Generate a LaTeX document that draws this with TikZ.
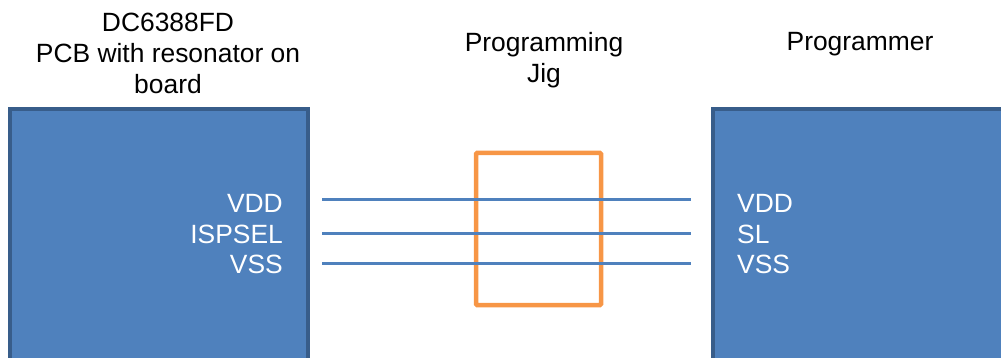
\documentclass[tikz,border=0pt]{standalone}
\usepackage{fontspec}
\setmainfont{Liberation Sans}
\definecolor{boxblue}{HTML}{4F81BD}
\definecolor{edgeblue}{HTML}{385D8A}
\definecolor{jigorange}{HTML}{F79646}
\begin{document}
\begin{tikzpicture}[x=1pt,y=-1pt,
        board/.style={fill=boxblue,draw=edgeblue,line width=4.5pt},
        pin/.style={text=white,font=\fontsize{26.4}{30}\selectfont,inner sep=0pt},
        title/.style={align=center,font=\fontsize{26.4}{30.8}\selectfont,inner sep=0pt},
        wire/.style={draw=boxblue,line width=3pt}]
\useasboundingbox (0,0) rectangle (1001,358);
\clip (0,0) rectangle (1001,358);

% boards
\draw[board] (10,109) rectangle (308,380);
\draw[board] (713,109) rectangle (1020,380);
\draw[jigorange,line width=4.5pt,rounded corners=1pt] (476,153) rectangle (601,305);

\node[title,anchor=north] (pcb) at (168,13) {DC6388FD\\PCB with resonator on\\board};
\node[title,anchor=north] (jig) at (544,32) {Programming\\Jig};
\node[title,anchor=base] (prog) at (860,51) {Programmer};

% pins
\node[pin,anchor=base east] (lvdd) at (283,213) {VDD};
\node[pin,anchor=base east] (lsel) at (283,243.5) {ISPSEL};
\node[pin,anchor=base east] (lvss) at (283,273) {VSS};
\node[pin,anchor=base west] (rvdd) at (737,213) {VDD};
\node[pin,anchor=base west] (rsel) at (737,243.5) {SL};
\node[pin,anchor=base west] (rvss) at (737,273) {VSS};

% wires
\coordinate (a1) at (322,200); \coordinate (b1) at (691,200);
\coordinate (a2) at (322,233); \coordinate (b2) at (691,233);
\coordinate (a3) at (322,263); \coordinate (b3) at (691,263);
\draw[wire] (a1) -- (b1);
\draw[wire] (a2) -- (b2);
\draw[wire] (a3) -- (b3);
\end{tikzpicture}
\end{document}
